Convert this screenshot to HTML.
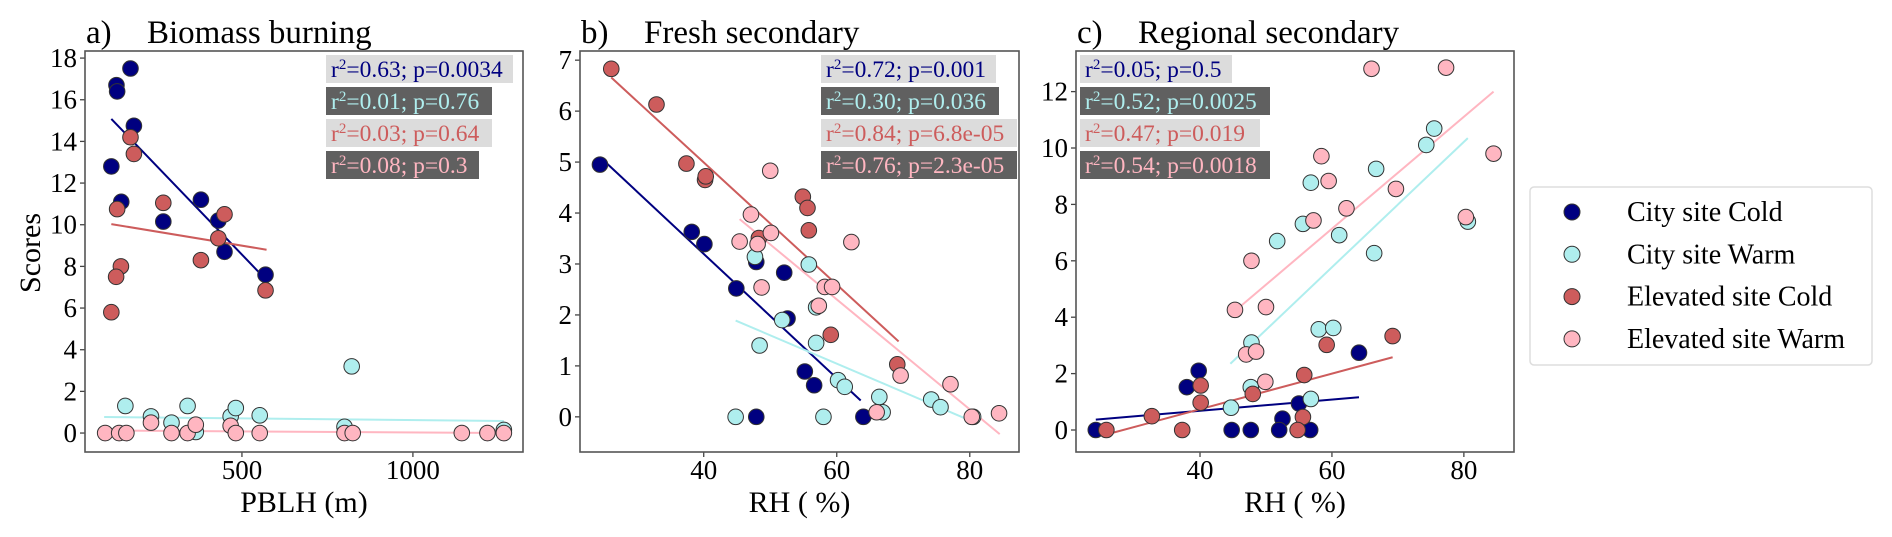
<!DOCTYPE html>
<html><head><meta charset="utf-8">
<style>
html,body{margin:0;padding:0;background:#fff;}
svg{display:block;font-family:"Liberation Serif","DejaVu Serif",serif;}
</style></head>
<body>
<svg id="chart" width="1892" height="537" viewBox="0 0 1892 537">
</svg>
<script>
// ---------- data ----------
const seriesNames = ["City site Cold","City site Warm","Elevated site Cold","Elevated site Warm"];
const seriesColors = ["#000080","#afeeee","#cd5c5c","#ffb6c1"];

// Panel a: PBLH vs score
const aCityColdX = [133,135,174,184,118,147,270,380,431,449,569];
const aCityColdY = [16.7,16.4,17.5,14.75,12.8,11.1,10.15,11.2,10.2,8.7,7.6];
const aCityWarmX = [159,234,294,341,365,467,482,552,800,821,1266];
const aCityWarmY = [1.3,0.8,0.5,1.3,0.05,0.8,1.2,0.85,0.3,3.2,0.15];
const aElevColdX = [174,184,270,135,146,132,118,380,431,449,569];
const aElevColdY = [14.2,13.4,11.05,10.75,8.0,7.5,5.8,8.3,9.35,10.5,6.85];
const aElevWarmX = [100,141,162,234,294,341,365,467,482,552,800,824,1143,1218,1266];
const aElevWarmY = [0,0,0,0.5,0,0,0.4,0.35,0,0,0,0,0,0,0];
const aFitLines = [[118,15.08,549,7.73],[97,0.77,1266,0.58],[118,10.03,572,8.8],[97,0.12,1266,0.0]];
const aLabels = ["0.63; p=0.0034","0.01; p=0.76","0.03; p=0.64","0.08; p=0.3"];
const aXTicks = [500,1000];
const aYTicks = [0,2,4,6,8,10,12,14,16,18];

// Panel b: RH vs score
const bCityColdX = [24.4,38.2,40.1,47.9,44.9,52.1,52.6,55.2,56.6,47.9,64.0];
const bCityColdY = [4.95,3.63,3.39,3.04,2.52,2.83,1.93,0.89,0.62,0,0];
const bCityWarmX = [47.7,55.8,56.9,51.8,56.9,48.4,60.2,61.2,66.4,66.9,58.0,44.8,74.2,75.6,80.5];
const bCityWarmY = [3.14,2.99,2.15,1.9,1.45,1.4,0.72,0.59,0.39,0.09,0,0,0.34,0.19,0];
const bElevColdX = [26.1,32.9,37.4,40.2,40.3,54.9,55.6,55.8,59.1,69.1,48.3];
const bElevColdY = [6.83,6.13,4.97,4.65,4.72,4.32,4.1,3.66,1.61,1.03,3.51];
const bElevWarmX = [50.0,47.1,50.1,45.4,48.1,62.2,48.7,58.2,59.3,57.3,69.6,66.0,77.1,80.3,84.4];
const bElevWarmY = [4.83,3.97,3.61,3.44,3.39,3.43,2.54,2.55,2.55,2.18,0.81,0.09,0.64,0,0.07];
const bFitLines = [[24.4,5.1,63.6,0.32],[44.8,1.89,80.2,-0.08],[26.1,6.66,69.3,1.48],[45.4,3.88,84.5,-0.34]];
const bLabels = ["0.72; p=0.001","0.30; p=0.036","0.84; p=6.8e-05","0.76; p=2.3e-05"];
const bXTicks = [40,60,80];
const bYTicks = [0,1,2,3,4,5,6,7];

// Panel c: RH vs score
const cCityColdX = [24.2,38.0,39.8,44.8,47.7,64.1,55.0,52.5,52.0,56.7];
const cCityColdY = [0,1.52,2.1,0,0,2.74,0.94,0.4,0,0];
const cCityWarmX = [44.7,47.7,47.8,75.5,74.3,66.7,56.8,55.6,51.7,61.1,66.4,80.6,58.0,60.2,56.8];
const cCityWarmY = [0.79,1.52,3.1,10.69,10.11,9.26,8.77,7.31,6.7,6.91,6.27,7.39,3.57,3.62,1.1];
const cElevColdX = [25.8,32.7,37.3,40.1,40.1,48.0,69.2,59.2,55.8,55.6,54.8];
const cElevColdY = [0,0.49,0,1.58,0.97,1.28,3.33,3.02,1.95,0.46,0];
const cElevWarmX = [45.3,47.0,47.8,66.0,77.3,84.5,58.4,59.5,69.7,62.2,57.2,80.3,50.0,48.5,49.9];
const cElevWarmY = [4.26,2.68,6.0,12.81,12.85,9.8,9.71,8.83,8.55,7.86,7.43,7.55,4.36,2.78,1.71];
const cFitLines = [[24.2,0.37,64.1,1.16],[44.6,2.35,80.6,10.35],[25.8,-0.16,69.2,2.58],[46.1,4.38,84.5,12.0]];
const cLabels = ["0.05; p=0.5","0.52; p=0.0025","0.47; p=0.019","0.54; p=0.0018"];
const cXTicks = [40,60,80];
const cYTicks = [0,2,4,6,8,10,12];

// ---------- drawing ----------
const NS = "http://www.w3.org/2000/svg";
const svg = document.getElementById("chart");
function mk(tag, attrs, parent){
  const e = document.createElementNS(NS, tag);
  for (const k in attrs) e.setAttribute(k, attrs[k]);
  (parent||svg).appendChild(e);
  return e;
}
function scale(d0,d1,p0,p1){ return v => p0 + (v-d0)/(d1-d0)*(p1-p0); }

const panels = [
  {key:"a", letter:"a)", title:"Biomass burning", xlabel:"PBLH (m)",
   box:[85,51,523,452], xdom:[41,1322], ydom:[-0.91,18.34],
   xs:[aCityColdX,aCityWarmX,aElevColdX,aElevWarmX], ys:[aCityColdY,aCityWarmY,aElevColdY,aElevWarmY],
   fits:aFitLines, labels:aLabels, xt:aXTicks, yt:aYTicks, titleX:147, annX:326, annW:[187,166,166,153]},
  {key:"b", letter:"b)", title:"Fresh secondary", xlabel:"RH ( %)",
   box:[580,51,1019,452], xdom:[21.4,87.4], ydom:[-0.69,7.18],
   xs:[bCityColdX,bCityWarmX,bElevColdX,bElevWarmX], ys:[bCityColdY,bCityWarmY,bElevColdY,bElevWarmY],
   fits:bFitLines, labels:bLabels, xt:bXTicks, yt:bYTicks, titleX:644, annX:821, annW:[175,178,196,196]},
  {key:"c", letter:"c)", title:"Regional secondary", xlabel:"RH ( %)",
   box:[1076,51,1514,452], xdom:[21.2,87.6], ydom:[-0.78,13.44],
   xs:[cCityColdX,cCityWarmX,cElevColdX,cElevWarmX], ys:[cCityColdY,cCityWarmY,cElevColdY,cElevWarmY],
   fits:cFitLines, labels:cLabels, xt:cXTicks, yt:cYTicks, titleX:1138, annX:1080, annW:[152,190,180,190]}
];
const annBg = ["#dcdcdc","#606060","#dcdcdc","#606060"];

panels.forEach(p => {
  const [L,T,R,B] = p.box;
  const g = mk("g", {});
  
  
  const X = scale(p.xdom[0],p.xdom[1],L,R);
  const Y = scale(p.ydom[0],p.ydom[1],B,T);

  const t1 = mk("text",{x:L+1,y:43,"font-size":33,fill:"#000"},g);
  t1.textContent = p.letter;
  
  
  const t2 = mk("text",{x:p.titleX,y:43,"font-size":33,fill:"#000"},g);
  t2.textContent = p.title;
  
  

  p.yt.forEach(v => {
    const y = Y(v);
    mk("line",{x1:L-5,x2:L,y1:y,y2:y,stroke:"#444","stroke-width":1.3},g);
    const tl = mk("text",{x:L-8,y:y+9,"font-size":27,"text-anchor":"end",fill:"#000"},g);
    tl.textContent = v;
    
    
  });
  p.xt.forEach(v => {
    const x = X(v);
    mk("line",{x1:x,x2:x,y1:B,y2:B+5,stroke:"#444","stroke-width":1.3},g);
    const tl = mk("text",{x:x,y:479,"font-size":27,"text-anchor":"middle",fill:"#000"},g);
    tl.textContent = v;
    
    
  });
  const xl = mk("text",{x:(L+R)/2,y:512,"font-size":30,"text-anchor":"middle",fill:"#000"},g);
  xl.textContent = p.xlabel;
  
  

  p.fits.forEach((f,i) => {
    const ln = mk("line",{x1:X(f[0]),y1:Y(f[1]),x2:X(f[2]),y2:Y(f[3]),stroke:seriesColors[i],"stroke-width":2},g);
    
    
  });
  p.xs.forEach((xsArr,i) => {
    xsArr.forEach((xv,j) => {
      const c = mk("circle",{cx:X(xv),cy:Y(p.ys[i][j]),r:7.8,fill:seriesColors[i],stroke:"#333","stroke-width":1},g);
      
      
    });
  });

  const fr = mk("rect",{x:L,y:T,width:R-L,height:B-T,fill:"none",stroke:"#555","stroke-width":1.6},g);
  
  

  p.labels.forEach((lab,i) => {
    const by = 55 + i*32;
    const bx = mk("rect",{x:p.annX,y:by,width:p.annW[i],height:28,fill:annBg[i]},g);
    
    
    const tx = mk("text",{x:p.annX+5,y:by+22,"font-size":23.5,fill:seriesColors[i]},g);
    
    
    const s1 = mk("tspan",{},tx); s1.textContent = "r";
    const s2 = mk("tspan",{dy:-8,"font-size":15},tx); s2.textContent = "2";
    const s3 = mk("tspan",{dy:8},tx); s3.textContent = "=" + lab;
  });
});

const yt = mk("text",{x:0,y:0,"font-size":30,"text-anchor":"middle",fill:"#000",transform:"translate(40,253) rotate(-90)"});
yt.textContent = "Scores";



const lg = mk("g",{});


mk("rect",{x:1530,y:187,width:342,height:178,rx:4,fill:"#fff",stroke:"#ddd","stroke-width":1.5},lg);
seriesNames.forEach((n,i) => {
  const y = 212 + i*42.3;
  const e = mk("g",{},lg);
  
  
  mk("circle",{cx:1572,cy:y,r:8,fill:seriesColors[i],stroke:"#333","stroke-width":1},e);
  const t = mk("text",{x:1627,y:y+9,"font-size":28,fill:"#000"},e);
  t.textContent = n;
});
</script>
</body></html>
